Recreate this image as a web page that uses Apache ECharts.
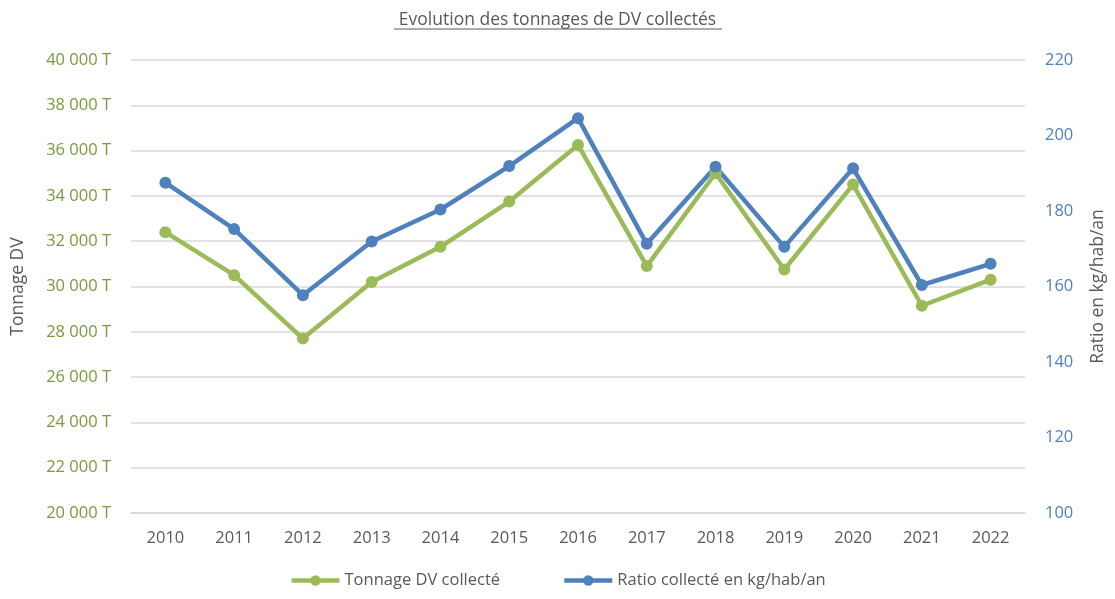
<!DOCTYPE html>
<html>
<head>
  <meta charset="utf-8">
  <title>Evolution des tonnages de DV collectés</title>
  <script src="https://cdn.jsdelivr.net/npm/echarts@6/dist/echarts.min.js"></script>
  <style>
    html, body { margin: 0; padding: 0; background: #fff; }
    #chart { width: 1115px; height: 599px; }
  </style>
</head>
<body>
<div id="chart"></div>
<script type="text/javascript">
// années
var years = ['2010', '2011', '2012', '2013', '2014', '2015', '2016', '2017', '2018', '2019', '2020', '2021', '2022'];
// tonnage DV collecté (T)
var tonnage = [32400, 30500, 27700, 30200, 31750, 33750, 36250, 30900, 35000, 30750, 34500, 29150, 30300];
// ratio collecté (kg/hab/an)
var ratio = [187.5, 175.2, 157.7, 171.9, 180.4, 191.9, 204.6, 171.3, 191.7, 170.5, 191.3, 160.4, 166.0];

var green = '#9bbb59';
var blue = '#4f81bd';
var grey = '#595959';
var font = '"Open Sans", Lato, sans-serif';

var myChart = echarts.init(document.getElementById('chart'));

function fmtT(v) {
    return String(v).replace(/\B(?=(\d{3})+(?!\d))/g, ' ') + ' T';
}

var option = {
    animation: false,
    textStyle: { fontFamily: font },
    title: {
        text: 'Evolution des tonnages de DV collectés',
        left: 'center',
        top: 6,
        textStyle: { color: grey, fontSize: 17.5, fontWeight: 'normal', fontFamily: font }
    },
    graphic: [{
        type: 'line',
        shape: { x1: 394, y1: 29, x2: 722, y2: 29 },
        style: { stroke: grey, lineWidth: 1 }
    }],
    legend: {
        bottom: 5,
        left: 'center',
        itemWidth: 48,
        itemHeight: 13,
        itemGap: 62,
        lineStyle: { width: 4.5 },
        textStyle: { color: grey, fontSize: 16.5, fontFamily: font },
        data: ['Tonnage DV collecté', 'Ratio collecté en kg/hab/an']
    },
    grid: { left: 131, right: 87, top: 60, bottom: 86 },
    xAxis: {
        type: 'category',
        data: years,
        boundaryGap: true,
        axisLine: { lineStyle: { color: '#d9d9d9', width: 1.5 } },
        axisTick: { show: false },
        axisLabel: { color: grey, fontSize: 16.5, margin: 17 }
    },
    yAxis: [{
        type: 'value',
        min: 20000,
        max: 40000,
        interval: 2000,
        name: 'Tonnage DV',
        nameLocation: 'middle',
        nameGap: 104,
        nameTextStyle: { color: grey, fontSize: 17.5 },
        axisLine: { show: false },
        axisTick: { show: false },
        axisLabel: { color: '#7a9a3e', fontSize: 16.5, margin: 20, formatter: fmtT },
        splitLine: { lineStyle: { color: '#d9d9d9', width: 1.5 } }
    }, {
        type: 'value',
        min: 100,
        max: 220,
        interval: 20,
        name: 'Ratio en kg/hab/an',
        nameLocation: 'middle',
        nameGap: 64,
        nameRotate: 90,
        nameTextStyle: { color: grey, fontSize: 17.5 },
        axisLine: { show: false },
        axisTick: { show: false },
        axisLabel: { color: blue, fontSize: 16.5, margin: 20 },
        splitLine: { show: false }
    }],
    series: [{
        name: 'Tonnage DV collecté',
        type: 'line',
        yAxisIndex: 0,
        data: tonnage,
        symbol: 'circle',
        symbolSize: 12,
        lineStyle: { color: green, width: 4.5 },
        itemStyle: { color: green }
    }, {
        name: 'Ratio collecté en kg/hab/an',
        type: 'line',
        yAxisIndex: 1,
        data: ratio,
        symbol: 'circle',
        symbolSize: 12,
        lineStyle: { color: blue, width: 4.5 },
        itemStyle: { color: blue }
    }]
};
myChart.setOption(option);
</script>
</body>
</html>
